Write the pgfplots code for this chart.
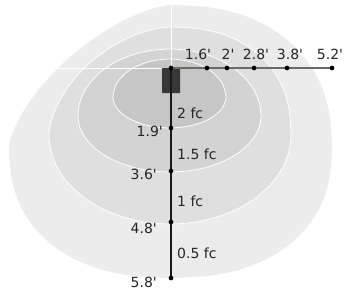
\documentclass[border=0pt]{standalone}
\usepackage{pgfplots}
\pgfplotsset{compat=1.18}
\usepackage{fontspec}
\setmainfont{DejaVu Sans}
\definecolor{cA}{HTML}{C6C6C6}
\definecolor{cB}{HTML}{D3D3D3}
\definecolor{cC}{HTML}{DFDFDF}
\definecolor{cD}{HTML}{ECECEC}
\definecolor{lamp}{HTML}{3A3836}
\definecolor{hline}{HTML}{6E6965}
\newcommand{\ft}{\textquotesingle}
\begin{document}
\begin{tikzpicture}
\begin{axis}[width=346pt,height=293pt,scale only axis,hide axis,
  xmin=0,xmax=346,ymin=0,ymax=293,y dir=reverse,clip=false]
% outer 0.5 fc
\addplot[fill=cD,draw=none,smooth cycle] coordinates {
(332,148) (329.3,179.3) (321.4,204.4) (308.0,226.0) (290.1,244.2) (267.6,258.6) (240.9,269.4) (209.8,275.8)
(171,278) (132.0,275.8) (100.7,269.4) (73.8,258.6) (51.1,244.2) (33.1,226.0) (19.7,204.4) (11.8,179.3)
(9,148) (13.1,131.8) (25.2,108.2) (44.5,82.6) (68.9,57.9) (97.0,36.3) (126.0,19.3) (152.7,8.6)
(171,5) (209.8,7.4) (240.9,14.4) (267.6,26.3) (290.1,42.2) (308.0,62.2) (321.4,85.9) (329.3,113.5)};
% 1 fc
\addplot[fill=cC,draw=white,line width=0.8pt,smooth cycle] coordinates {
(291,135) (288.7,152.4) (281.8,169.1) (270.6,184.5) (255.5,197.9) (237.3,209.0) (216.3,217.2) (193.6,222.3)
(170,224) (146.4,222.3) (123.7,217.2) (102.7,209.0) (84.5,197.9) (69.4,184.5) (58.2,169.1) (51.3,152.4)
(49,135) (51.7,119.2) (59.8,100.1) (72.7,80.9) (89.5,63.2) (109.4,48.2) (130.9,36.6) (152.3,29.4)
(170,27) (199.2,28.8) (222.5,34.1) (242.6,43.1) (259.5,55.1) (273.0,70.2) (283.0,88.1) (288.9,109.0)};
% 1.5 fc
\addplot[fill=cB,draw=white,line width=0.8pt,smooth cycle] coordinates {
(261,116) (259.3,126.9) (254.1,137.4) (245.6,147.1) (234.3,155.6) (220.6,162.5) (204.9,167.7) (187.7,170.9)
(170,172) (152.1,170.9) (134.8,167.7) (118.8,162.5) (105.0,155.6) (93.5,147.1) (85.0,137.4) (79.7,126.9)
(78,116) (79.7,102.9) (85.0,90.3) (93.5,78.7) (105.0,68.6) (118.8,60.3) (134.8,54.1) (152.1,50.3)
(170,49) (187.7,50.3) (204.9,54.1) (220.6,60.3) (234.3,68.6) (245.6,78.7) (254.1,90.3) (259.3,102.9)};
% 2 fc
\addplot[fill=cA,draw=white,line width=0.8pt,smooth cycle] coordinates {
(226,97) (221.7,108.9) (209.6,118.9) (191.4,125.6) (170,128)
(148.2,125.6) (129.7,118.9) (117.3,108.9) (113,97)
(117.3,82.4) (129.7,70.1) (148.2,61.9) (170,59)
(191.4,61.9) (209.6,70.1) (221.7,82.4)};
% white guide lines
\addplot[draw=white,line width=0.9pt] coordinates {(171,0) (171,68)};
\addplot[draw=white,line width=0.9pt] coordinates {(0,68) (171,68)};
% lamp
\addplot[fill=lamp,draw=none] coordinates {(162,68) (180,68) (180,93) (162,93) (162,68)};
% lines
\addplot[draw=hline,line width=1.3pt] coordinates {(171,68) (332,68)};
\addplot[draw=black!90,line width=1.1pt] coordinates {(171,68) (171,278)};
% dots
\addplot[only marks,mark=*,mark size=2.1pt,black] coordinates {
(171,68) (207,68) (227,68) (254,68) (287,68) (332,68) (171,128) (171,171) (171,222) (171,278)};
% labels
\begin{scope}[every node/.style={font=\fontsize{14}{16}\selectfont,text=black!85,inner sep=0pt}]
\node at (axis cs:198,54) {1.6\ft};
\node at (axis cs:228,54) {2\ft};
\node at (axis cs:256,54) {2.8\ft};
\node at (axis cs:290,54) {3.8\ft};
\node at (axis cs:330,54) {5.2\ft};
\node[anchor=east] at (axis cs:163,131) {1.9\ft};
\node[anchor=east] at (axis cs:157,174) {3.6\ft};
\node[anchor=east] at (axis cs:157,228) {4.8\ft};
\node[anchor=east] at (axis cs:157,282) {5.8\ft};
\node[anchor=west] at (axis cs:177,113) {2 fc};
\node[anchor=west] at (axis cs:177,154) {1.5 fc};
\node[anchor=west] at (axis cs:177,201) {1 fc};
\node[anchor=west] at (axis cs:177,253) {0.5 fc};
\end{scope}
\end{axis}
\pgfresetboundingbox
\path (current axis.south west) rectangle (current axis.north east);
\end{tikzpicture}
\end{document}
